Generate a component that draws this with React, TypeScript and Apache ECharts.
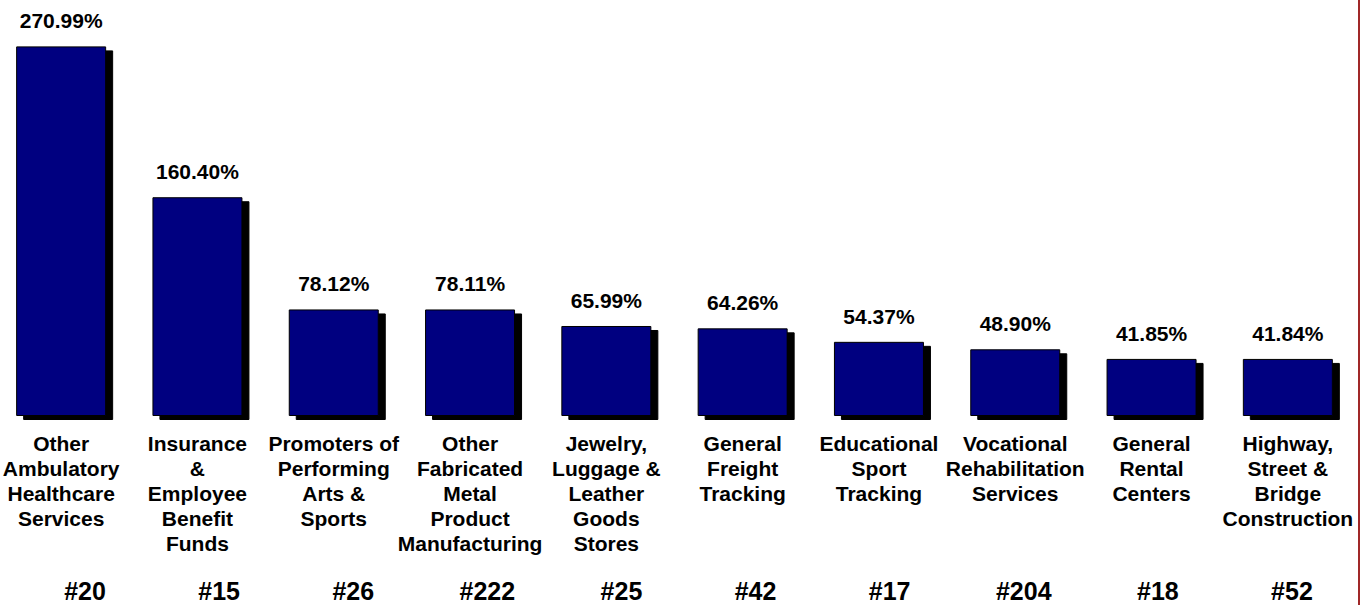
import React, { useEffect, useRef } from "react";
import * as echarts from "echarts";

const categories = [
  "Other\nAmbulatory\nHealthcare\nServices",
  "Insurance\n&\nEmployee\nBenefit\nFunds",
  "Promoters of\nPerforming\nArts &\nSports",
  "Other\nFabricated\nMetal\nProduct\nManufacturing",
  "Jewelry,\nLuggage &\nLeather\nGoods\nStores",
  "General\nFreight\nTracking",
  "Educational\nSport\nTracking",
  "Vocational\nRehabilitation\nServices",
  "General\nRental\nCenters",
  "Highway,\nStreet &\nBridge\nConstruction",
];
const values = [270.99, 160.4, 78.12, 78.11, 65.99, 64.26, 54.37, 48.9, 41.85, 41.84];
const ranks = ["#20", "#15", "#26", "#222", "#25", "#42", "#17", "#204", "#18", "#52"];

const FONT = "'Liberation Sans', Arial, Helvetica, sans-serif";
const SHIFT = 10; // container starts 10px left of the page edge

export default function App() {
  const ref = useRef<HTMLDivElement>(null);
  useEffect(() => {
    if (!ref.current) return;
    const chart = echarts.init(ref.current, null, { renderer: "svg" });
    chart.setOption({
      animation: false,
      backgroundColor: "#ffffff",
      grid: [
        { left: SHIFT - 7, width: 1363, top: 0, height: 416 },
        { left: SHIFT + 18, width: 1341, top: 572, height: 4 },
      ],
      xAxis: [
        {
          type: "category",
          gridIndex: 0,
          data: categories,
          axisLine: { show: false },
          axisTick: { show: false },
          splitLine: { show: false },
          axisLabel: {
            interval: 0,
            margin: 15,
            color: "#000",
            fontFamily: FONT,
            fontWeight: "bold",
            fontSize: 21,
            lineHeight: 25,
            align: "center",
          },
        },
        {
          type: "category",
          gridIndex: 1,
          data: ranks,
          axisLine: { show: false },
          axisTick: { show: false },
          splitLine: { show: false },
          axisLabel: {
            interval: 0,
            margin: 4,
            color: "#000",
            fontFamily: FONT,
            fontWeight: "bold",
            fontSize: 25,
            lineHeight: 22,
          },
        },
      ],
      yAxis: [
        { type: "value", gridIndex: 0, min: 0, max: 305, show: false, splitLine: { show: false } },
        { type: "value", gridIndex: 1, min: 0, max: 1, show: false, splitLine: { show: false } },
      ],
      series: [
        {
          type: "bar",
          xAxisIndex: 0,
          yAxisIndex: 0,
          data: values,
          barWidth: 90,
          itemStyle: {
            color: "#000080",
            borderColor: "#000000",
            borderWidth: 1,
            shadowColor: "#000000",
            shadowBlur: 0,
            shadowOffsetX: 7,
            shadowOffsetY: 4,
          },
          label: {
            show: true,
            position: "top",
            distance: 15,
            color: "#000",
            fontFamily: FONT,
            fontWeight: "bold",
            fontSize: 21,
            formatter: (p: any) => p.value.toFixed(2) + "%",
          },
        },
      ],
      graphic: [
        {
          type: "rect",
          shape: { x: SHIFT + 1358, y: 0, width: 2, height: 605 },
          style: { fill: "#A02828" },
          silent: true,
        },
      ],
    });
    return () => chart.dispose();
  }, []);
  return (
    <div
      ref={ref}
      style={{ position: "absolute", left: -SHIFT, top: 0, width: 1361 + SHIFT, height: 605 }}
    />
  );
}
